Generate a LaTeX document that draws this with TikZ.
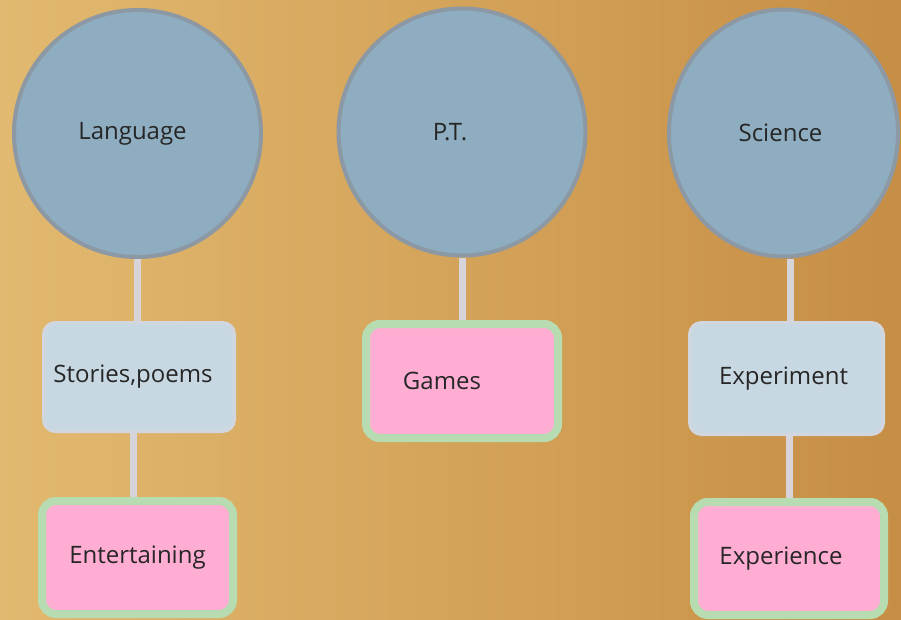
\documentclass[tikz,border=0pt]{standalone}
\usepackage{fontspec}
\setmainfont{Open Sans}
\usetikzlibrary{shapes.geometric}
\definecolor{bgleft}{HTML}{E2B970}
\definecolor{bgmid}{HTML}{C98F40}
\definecolor{bgright}{HTML}{C68E44}
\definecolor{topicfill}{HTML}{8EADC0}
\definecolor{topicline}{HTML}{8C98A4}
\definecolor{ideafill}{HTML}{C8D8E2}
\definecolor{idealine}{HTML}{D2D6DE}
\definecolor{resultfill}{HTML}{FFADD2}
\definecolor{resultline}{HTML}{B8DCB2}
\definecolor{linkcol}{HTML}{D6D4D8}
\tikzset{
  topic/.style={circle, fill=topicfill, draw=topicline, line width=4pt, minimum size=247pt, inner sep=0pt},
  idea/.style={rectangle, rounded corners=12pt, fill=ideafill, draw=idealine, line width=3pt},
  result/.style={rectangle, rounded corners=14pt, fill=resultfill, draw=resultline, line width=8pt},
  link/.style={draw=linkcol, line width=7pt}
}
\begin{document}
\begin{tikzpicture}[x=1pt, y=-1pt, every node/.style={font=\fontsize{24}{28}\selectfont, text=black!85}]
        % background
        \useasboundingbox (0,0) rectangle (901,619);
        \shade[left color=bgleft, middle color=bgmid, right color=bgright] (0,0) rectangle (901,619);

        % subjects
        \node[topic] (lang) at (137.5,133.5) {Language\hspace*{10pt}};
        \node[topic] (pt) at (462,132) {P.T.\hspace*{24pt}};
        \node[topic, ellipse, minimum width=229pt, minimum height=247pt] (sci) at (783.5,133) {Science\hspace*{6pt}};

        % second row
        \node[idea, minimum width=191pt, minimum height=109pt] (stories) at (139,377) {Stories,poems\hspace*{12pt}};
        \node[result, minimum width=192pt, minimum height=114pt] (games) at (462,381) {Games\hspace*{40pt}};
        \node[idea, minimum width=194pt, minimum height=112pt] (exper) at (786.5,378.5) {Experiment\hspace*{6pt}};

        % third row
        \node[result, minimum width=191pt, minimum height=113pt] (ent) at (137.5,557.5) {Entertaining};
        \node[result, minimum width=190pt, minimum height=113pt] (expce) at (789,558.5) {Experience\hspace*{16pt}};

        % links
        \draw[link] (lang.south) -- (lang.south |- stories.north);
        \draw[link] ([xshift=-6pt]stories.south) -- ([xshift=-6pt]stories.south |- ent.north);
        \draw[link] (pt.south) -- (pt.south |- games.north);
        \draw[link] ([xshift=4pt]exper.north |- sci.south) -- ([xshift=4pt]exper.north);
        \draw[link] ([xshift=3pt]exper.south) -- ([xshift=3pt]exper.south |- expce.north);
\end{tikzpicture}
\end{document}
